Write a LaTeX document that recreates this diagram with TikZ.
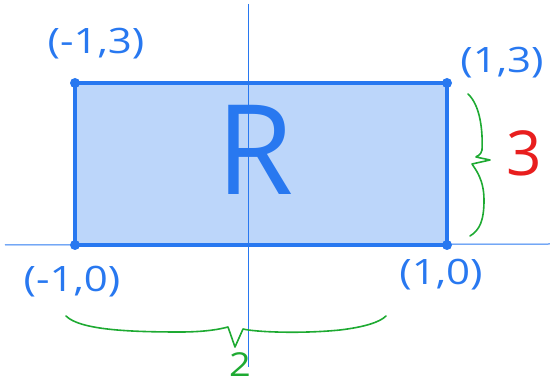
\documentclass[tikz,border=0pt]{standalone}
\usepackage{fontspec}
\setmainfont{Open Sans}
\definecolor{penblue}{RGB}{40,120,240}
\definecolor{fillblue}{RGB}{188,214,250}
\definecolor{pengreen}{RGB}{30,170,50}
\definecolor{penred}{RGB}{232,30,30}
\tikzset{
  axisline/.style={draw=penblue, line width=1pt},
  edge/.style={draw=penblue, line width=3.5pt, line cap=round, line join=round},
  corner/.style={circle, fill=penblue, inner sep=0pt, minimum size=10pt},
  ptlabel/.style={text=penblue, font=\fontsize{35}{35}\selectfont, inner sep=0pt, xscale=1.2},
  bracepen/.style={draw=pengreen, line width=1.6pt, line cap=round, line join=round}
}
\begin{document}
\begin{tikzpicture}[x=1pt,y=-1pt]
\useasboundingbox (0,0) rectangle (550,387);
% corners
\coordinate (A) at (75,83);
\coordinate (B) at (447,83);
\coordinate (C) at (447,245);
\coordinate (D) at (75,245);
\fill[fillblue] (A) rectangle (C);
% axes
\coordinate (xl) at (5,245);
\coordinate (xr) at (550,244);
\coordinate (yt) at (248,4);
\coordinate (yb) at (248,367);
\draw[axisline] (xl) -- (xr);
\draw[axisline] (yt) -- (yb);
% rectangle border
\draw[edge] (A) -- (B) -- (C) -- (D) -- cycle;
\node[corner] (nA) at (A) {};
\node[corner] (nB) at (B) {};
\node[corner] (nC) at (C) {};
\node[corner] (nD) at (D) {};
% labels
\node[ptlabel] (lA) at (96,44) {(-1,3)};
\node[ptlabel] (lB) at (502,63) {(1,3)};
\node[ptlabel] (lD) at (72,282) {(-1,0)};
\node[ptlabel] (lC) at (441,275) {(1,0)};
\node[text=penblue, font=\fontsize{125}{125}\selectfont, inner sep=0pt] (R) at (255,150) {R};
% right brace
\coordinate (rb1) at (468,94);
\coordinate (rtip) at (490,160);
\coordinate (rb2) at (470,236);
\draw[bracepen] (rb1) .. controls (480,105) and (483,130) .. (482,150)
  .. controls (481,156) and (476,156) .. (476,157) -- (rtip)
  -- (472,164) .. controls (476,170) and (484,180) .. (484,200)
  .. controls (484,220) and (480,230) .. (rb2);
\node[text=penred, font=\fontsize{62}{62}\selectfont, inner sep=0pt, anchor=base] (three) at (524,176) {3};
% bottom brace
\coordinate (bb1) at (66,316);
\coordinate (btip) at (235,347);
\coordinate (bb2) at (386,316);
\draw[bracepen] (bb1) .. controls (80,330) and (130,332) .. (180,332)
  .. controls (210,332) and (224,328) .. (228,327) -- (btip)
  -- (243,329) .. controls (255,332) and (300,334) .. (340,330)
  .. controls (365,327) and (380,322) .. (bb2);
\node[text=pengreen, font=\fontsize{33}{33}\selectfont, inner sep=0pt, anchor=base, xscale=1.15] (two) at (240,377) {2};
\end{tikzpicture}
\end{document}
